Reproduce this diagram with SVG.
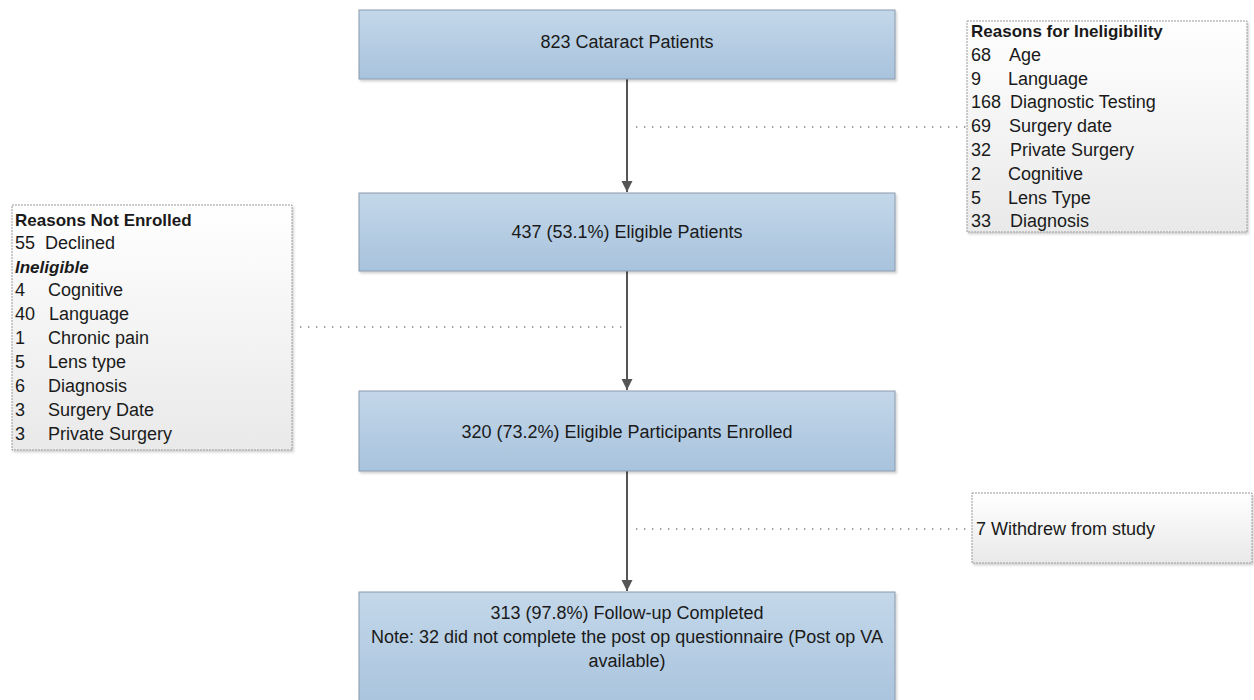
<svg xmlns="http://www.w3.org/2000/svg" width="1254" height="700" viewBox="0 0 1254 700">
<defs>
<linearGradient id="blue" x1="0" y1="0" x2="0" y2="1">
<stop offset="0" stop-color="#c3d7e9"/>
<stop offset="1" stop-color="#a8c3dd"/>
</linearGradient>
<linearGradient id="grey" x1="0" y1="0" x2="0" y2="1">
<stop offset="0" stop-color="#ffffff"/>
<stop offset="1" stop-color="#e9e9e9"/>
</linearGradient>
<filter id="sh" x="-5%" y="-5%" width="110%" height="120%">
<feDropShadow dx="1.5" dy="2" stdDeviation="1.2" flood-color="#000" flood-opacity="0.18"/>
</filter>
<marker id="arr" viewBox="0 0 10 10" refX="10" refY="5" markerWidth="5.5" markerHeight="6" orient="auto" markerUnits="strokeWidth">
<path d="M0,0 L10,5 L0,10 z" fill="#555"/>
</marker>
<style>
.bbox{fill:url(#blue);stroke:#8a9aab;stroke-width:1;filter:url(#sh)}
.gbox{fill:url(#grey);stroke:#9a9a9a;stroke-width:1;stroke-dasharray:2 1;filter:url(#sh)}
.t{font-family:"Liberation Sans",Arial,sans-serif;font-size:18px;fill:#1a1a1a}
.c{text-anchor:middle}
.b{font-weight:bold;font-size:17px}
.flow{stroke:#555;stroke-width:2;fill:none;marker-end:url(#arr)}
.dot{stroke:#7a7a7a;stroke-width:1.3;stroke-dasharray:1.3 6.7;fill:none}
</style>
</defs>
<g id="connectors">
<line class="flow" x1="627" y1="79" x2="627" y2="192"/>
<line class="flow" x1="627" y1="271" x2="627" y2="390"/>
<line class="flow" x1="627" y1="471" x2="627" y2="591"/>
<line class="dot" x1="636" y1="127" x2="966" y2="127"/>
<line class="dot" x1="300" y1="327" x2="622" y2="327"/>
<line class="dot" x1="636" y1="529" x2="970" y2="529"/>
</g>
<g id="n1">
<rect class="bbox" x="359" y="10" width="536" height="69"/>
<text class="t c" x="627" y="48">823 Cataract Patients</text>
</g>
<g id="n2">
<rect class="bbox" x="359" y="193" width="536" height="78"/>
<text class="t c" x="627" y="238">437 (53.1%) Eligible Patients</text>
</g>
<g id="n3">
<rect class="bbox" x="359" y="391" width="536" height="80"/>
<text class="t c" x="627" y="438">320 (73.2%) Eligible Participants Enrolled</text>
</g>
<g id="n4">
<rect class="bbox" x="359" y="592" width="536" height="120"/>
<text class="t c" x="627" y="619">313 (97.8%) Follow-up Completed</text>
<text class="t c" x="627" y="643">Note: 32 did not complete the post op questionnaire (Post op VA</text>
<text class="t c" x="627" y="667">available)</text>
</g>
<g id="ineligibility">
<rect class="gbox" x="967" y="21" width="280" height="211"/>
<text class="t b" x="971" y="37">Reasons for Ineligibility</text>
<text class="t" y="61"><tspan x="971">68</tspan><tspan x="1009">Age</tspan></text>
<text class="t" y="85"><tspan x="971">9</tspan><tspan x="1008">Language</tspan></text>
<text class="t" y="108"><tspan x="971">168</tspan><tspan x="1010">Diagnostic Testing</tspan></text>
<text class="t" y="132"><tspan x="971">69</tspan><tspan x="1009">Surgery date</tspan></text>
<text class="t" y="156"><tspan x="971">32</tspan><tspan x="1010">Private Surgery</tspan></text>
<text class="t" y="180"><tspan x="971">2</tspan><tspan x="1008">Cognitive</tspan></text>
<text class="t" y="204"><tspan x="971">5</tspan><tspan x="1008">Lens Type</tspan></text>
<text class="t" y="227"><tspan x="971">33</tspan><tspan x="1010">Diagnosis</tspan></text>
</g>
<g id="notenrolled">
<rect class="gbox" x="12" y="205" width="280" height="245"/>
<text class="t b" x="15" y="226">Reasons Not Enrolled</text>
<text class="t" y="249"><tspan x="15">55</tspan><tspan x="45">Declined</tspan></text>
<text class="t b" x="15" y="273" font-style="italic">Ineligible</text>
<text class="t" y="296"><tspan x="15">4</tspan><tspan x="48">Cognitive</tspan></text>
<text class="t" y="320"><tspan x="15">40</tspan><tspan x="49">Language</tspan></text>
<text class="t" y="344"><tspan x="15">1</tspan><tspan x="48">Chronic pain</tspan></text>
<text class="t" y="368"><tspan x="15">5</tspan><tspan x="48">Lens type</tspan></text>
<text class="t" y="392"><tspan x="15">6</tspan><tspan x="48">Diagnosis</tspan></text>
<text class="t" y="416"><tspan x="15">3</tspan><tspan x="48">Surgery Date</tspan></text>
<text class="t" y="440"><tspan x="15">3</tspan><tspan x="48">Private Surgery</tspan></text>
</g>
<g id="withdrew">
<rect class="gbox" x="972" y="493" width="280" height="70"/>
<text class="t" x="976" y="535">7 Withdrew from study</text>
</g>
</svg>
